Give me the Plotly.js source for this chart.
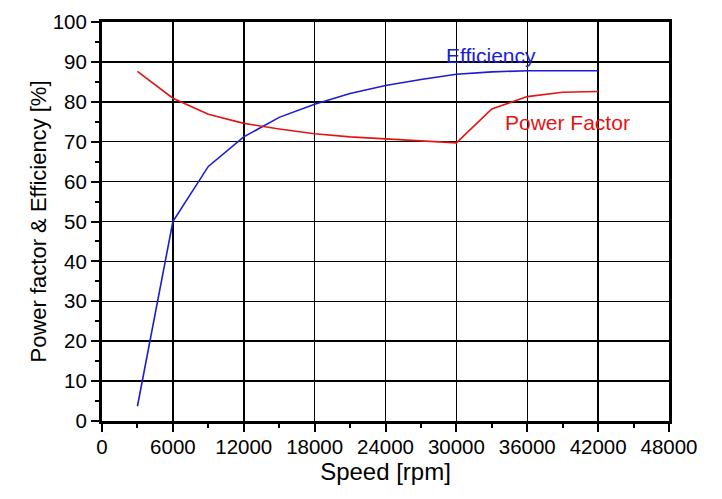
<!DOCTYPE html>
<html>
<head>
<meta charset="utf-8">
<script src="https://cdn.plot.ly/plotly-3.0.1.min.js"></script>
<style>html,body{margin:0;padding:0;background:#fff;}#chart{width:722px;height:499px;}</style>
</head>
<body>
<div id="chart"></div>
<script>
const speed = [3000, 6000, 9000, 12000, 15000, 18000, 21000, 24000, 27000, 30000, 33000, 36000, 39000, 42000];
const efficiency = [3.7, 50.0, 63.8, 71.2, 76.1, 79.4, 82.1, 84.1, 85.6, 86.9, 87.5, 87.8, 87.8, 87.8];
const powerFactor = [87.6, 80.9, 76.9, 74.6, 73.2, 72.0, 71.2, 70.7, 70.2, 69.7, 78.2, 81.3, 82.4, 82.6];
const xTicks = [0, 6000, 12000, 18000, 24000, 30000, 36000, 42000, 48000];
const yTicks = [0, 10, 20, 30, 40, 50, 60, 70, 80, 90, 100];
const seriesLabels = ["Efficiency", "Power Factor"];

const FONT = "Liberation Sans, Arial, sans-serif";
const blue = "#1c1cd6";
const red = "#e31414";

const traces = [
  {x: speed, y: efficiency, mode: "lines", line: {color: blue, width: 1.6}, name: seriesLabels[0], showlegend: false},
  {x: speed, y: powerFactor, mode: "lines", line: {color: red, width: 1.6}, name: seriesLabels[1], showlegend: false}
];

const axisCommon = {
  showline: true, linewidth: 3, linecolor: "black", mirror: true,
  showgrid: true, gridcolor: "black", gridwidth: 1.5,
  zeroline: false, ticks: "outside", ticklen: 8, tickwidth: 2, tickcolor: "black",
  tickfont: {family: FONT, size: 20.5, color: "black"}
};

const layout = {
  width: 722, height: 499,
  margin: {l: 102, r: 53, t: 22, b: 78},
  paper_bgcolor: "white", plot_bgcolor: "white",
  font: {family: FONT, color: "black"},
  xaxis: Object.assign({}, axisCommon, {
    range: [0, 48000], tickvals: xTicks, ticktext: xTicks.map(String),
    ticklabelstandoff: -3,
    minor: {ticks: "outside", ticklen: 4, tickwidth: 2, tickcolor: "black", dtick: 3000, tick0: 0, showgrid: false},
    title: {text: "Speed [rpm]", font: {family: FONT, size: 24, color: "black"}, standoff: 6}
  }),
  yaxis: Object.assign({}, axisCommon, {
    range: [0, 100], tickvals: yTicks, ticktext: yTicks.map(String),
    minor: {ticks: "outside", ticklen: 4, tickwidth: 2, tickcolor: "black", dtick: 5, tick0: 0, showgrid: false},
    title: {text: "Power factor & Efficiency [%]", font: {family: FONT, size: 22, color: "black"}, standoff: 0}
  }),
  annotations: [
    {x: 32900, y: 91.7, xref: "x", yref: "y", text: seriesLabels[0], showarrow: false,
     font: {family: FONT, size: 21, color: blue}},
    {x: 39400, y: 74.7, xref: "x", yref: "y", text: seriesLabels[1], showarrow: false,
     font: {family: FONT, size: 21, color: red}}
  ]
};

Plotly.newPlot("chart", traces, layout, {displayModeBar: false, staticPlot: true});
</script>
</body>
</html>
